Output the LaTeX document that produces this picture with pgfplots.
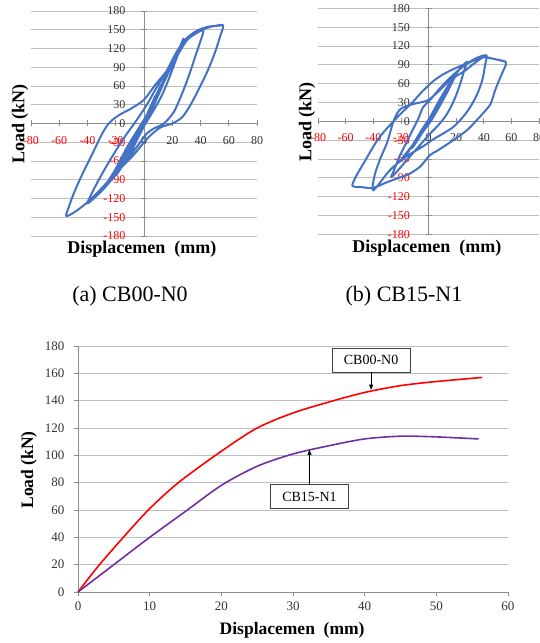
\documentclass[border=0pt]{standalone}
\usepackage{pgfplots}
\pgfplotsset{compat=1.18}
\usepackage{fontspec}
\setmainfont{Liberation Serif}
\usetikzlibrary{arrows.meta}

\definecolor{xlblue}{RGB}{68,114,196}
\definecolor{gridgray}{RGB}{190,190,190}
\definecolor{axgray}{RGB}{140,140,140}
\definecolor{cbred}{RGB}{255,0,0}
\definecolor{cbpurple}{RGB}{112,48,160}

\pgfplotsset{
  hyst/.style={
    scale only axis,
    xmin=-80, xmax=80, ymin=-180, ymax=180,
    axis lines=middle,
    axis line style={draw=axgray, line width=0.6pt, -},
    hide obscured x ticks=false, hide obscured y ticks=false,
    xtick={-80,-60,...,80}, ytick={-180,-150,...,180},
    xticklabels={\textcolor{red}{-80},\textcolor{red}{-60},\textcolor{red}{-40},\textcolor{red}{-20},0,20,40,60,80},
    yticklabels={\textcolor{red}{-180},\textcolor{red}{-150},\textcolor{red}{-120},\textcolor{red}{-90},\textcolor{red}{-60},\textcolor{red}{-30},0,30,60,90,120,150,180},
    ticklabel style={font=\fontsize{12}{14}\selectfont, text=black!80},
    xticklabel style={anchor=north, yshift=-6pt},
    yticklabel style={anchor=east, xshift=-12pt},
    tick align=center, major tick length=6pt,
    tick style={axgray, line width=0.6pt},
    ymajorgrids, grid style={gridgray, line width=0.6pt},
    label style={font=\bfseries\fontsize{18}{20}\selectfont},
    xlabel={Displacemen\ \ (mm)}, ylabel={Load (kN)},
  },
  loop/.style={xlblue, line width=2pt, smooth, tension=0.5, mark=none, line join=round},
}

\begin{document}
\begin{tikzpicture}
\useasboundingbox (0,0) rectangle (540pt,643pt);

% (a) CB00-N0
\begin{axis}[hyst, at={(31pt,407pt)}, anchor=south west, width=226pt, height=225pt,
  xlabel style={at={(axis description cs:0.491,-0.058)}, anchor=center},
  ylabel style={at={(axis description cs:-0.049,0.498)}, anchor=center, rotate=90}]
\addplot[loop] coordinates {
(0,0) (3,16) (5,28) (3,18) (0,4) (-3,-12) (-5,-24) (-3,-14) (0,-2)
(4,22) (8,44) (6,34) (2,14) (-2,-6) (-5,-20) (-8,-36) (-6,-28) (-2,-10) (1,4)
(6,32) (12,62) (10,52) (5,28) (0,4) (-5,-18) (-12,-52) (-9,-44) (-4,-22) (0,-4)
(6,30) (12,58) (17,82) (15,74) (10,50) (4,22) (-2,-4) (-8,-30) (-16,-64) (-13,-58) (-7,-34) (-1,-8)
(5,20) (12,55) (20,100) (18,90) (13,62) (7,32) (1,6) (-6,-22) (-13,-50) (-20,-82) (-17,-74) (-11,-48) (-4,-18) (2,6)
(9,42) (16,75) (23,110) (28,136) (26,122) (22,98) (17,68) (12,42) (6,18) (0,-4) (-8,-32) (-16,-60) (-22,-80) (-27,-98) (-24,-88) (-18,-64) (-12,-38) (-5,-12) (1,10) (8,40) (15,72)
(22,102) (30,132) (36,143) (42,149) (40,132) (37,112) (32,78) (27,48) (21,18) (14,0) (7,-8) (2,-16) (-4,-34) (-12,-58) (-20,-82) (-30,-108) (-40,-128) (-37,-112) (-32,-90) (-26,-66) (-19,-40) (-12,-16) (-5,6) (2,30) (9,58) (16,84) (24,118) (32,140) (42,151)
(50,156) (56,157) (54,140) (50,112) (45,84) (39,56) (33,30) (27,10) (20,0) (12,-6) (5,-18) (0,-30) (-8,-52) (-16,-70) (-26,-94) (-38,-122) (-48,-140) (-55,-148) (-53,-132) (-49,-108) (-43,-78) (-36,-46) (-30,-18) (-25,0) (-18,13) (-9,24) (0,38) (8,62) (16,84) (24,114) (30,136) (38,149) (46,155) (56,157)
};
\end{axis}

% (b) CB15-N1
\begin{axis}[hyst, at={(318pt,408.7pt)}, anchor=south west, width=221pt, height=226pt,
  xlabel style={at={(axis description cs:0.493,-0.061)}, anchor=center},
  ylabel style={at={(axis description cs:-0.05,0.497)}, anchor=center, rotate=90}]
\addplot[loop] coordinates {
(0,0) (3,12) (5,20) (3,13) (0,2) (-3,-10) (-5,-20) (-3,-12) (0,-1)
(4,16) (8,32) (6,24) (2,8) (-3,-10) (-8,-30) (-6,-23) (-2,-8) (1,3)
(6,24) (12,46) (10,38) (5,18) (0,0) (-5,-16) (-12,-42) (-10,-37) (-5,-20) (0,-2)
(7,30) (14,56) (20,76) (18,66) (13,44) (7,20) (1,-2) (-6,-22) (-13,-42) (-20,-62) (-17,-56) (-11,-36) (-5,-14) (1,6)
(8,34) (15,58) (22,82) (28,95) (26,82) (23,60) (19,36) (14,14) (8,-4) (1,-20) (-7,-40) (-15,-60) (-22,-78) (-27,-89) (-25,-78) (-21,-56) (-16,-34) (-11,-12) (-7,6) (-4,22) (2,36) (8,52) (15,68) (21,80) (28,92)
(35,101) (42,105) (41,90) (39,66) (35,42) (30,22) (25,7) (18,-9) (11,-19) (4,-28) (-4,-40) (-16,-56) (-28,-78) (-40,-110) (-39,-86) (-35,-60) (-30,-34) (-25,2) (-20,20) (-10,28) (-1,33) (6,45) (13,60) (20,72) (26,80) (33,92) (40,102)
(48,99) (56,94) (54,80) (52,70) (48,48) (45,28) (40,14) (35,2) (28,-14) (18,-30) (7,-46) (1,-54) (-6,-72) (-14,-84) (-20,-89) (-30,-97) (-40,-106) (-48,-105) (-55,-103) (-53,-90) (-50,-78) (-47,-67) (-42,-48) (-37,-30) (-32,-16) (-27,-4) (-21,10) (-15,23) (-10,34) (-6,44) (-1,55) (4,65) (10,74) (16,81) (22,87) (28,92) (34,98) (40,102) (46,100) (56,95)
};
\end{axis}

\node[font=\fontsize{22}{24}\selectfont] at (130pt,347pt) {(a) CB00-N0};
\node[font=\fontsize{22}{24}\selectfont] at (404pt,347pt) {(b) CB15-N1};

% envelope curves
\begin{axis}[scale only axis, at={(78pt,51pt)}, anchor=south west, width=430pt, height=246pt,
  xmin=0, xmax=60, ymin=0, ymax=180,
  axis x line=bottom, axis y line=left,
  axis line style={draw=axgray, line width=0.6pt, -},
  xtick={0,10,...,60}, ytick={0,20,...,180},
  tick align=outside, major tick length=4pt,
  tick style={axgray, line width=0.6pt},
  ymajorgrids, grid style={gridgray, line width=0.6pt},
  /pgf/number format/assume math mode=true,
  ticklabel style={font=\fontsize{13}{15}\selectfont, text=black!80},
  xticklabel style={yshift=-2pt},
  yticklabel style={xshift=-6pt},
  label style={font=\bfseries\fontsize{17.5}{20}\selectfont},
  xlabel={Displacemen\ \ (mm)}, ylabel={Load (kN)},
  xlabel style={at={(axis description cs:0.498,-0.154)}, anchor=center},
  ylabel style={at={(axis description cs:-0.114,0.496)}, anchor=center},
  clip=false]
\addplot[cbred, line width=1.6pt, smooth, mark=none] coordinates {
(0,0) (3,20) (7,44) (10,61) (14,80) (20,103) (25,120) (30,131) (35,139) (40,146) (45,151) (50,154) (56.4,157)
};
\addplot[cbpurple, line width=1.6pt, smooth, mark=none] coordinates {
(0,0) (5,20) (10,40) (15,59) (20,78) (25,92) (30,101) (35,107) (40,112) (45,114) (50,113.5) (55.9,112)
};
\node[draw=black!75, fill=white, line width=0.8pt, minimum width=78pt, minimum height=24pt,
  font=\fontsize{14}{16}\selectfont] at (axis cs:40.9,169.8) {CB00-N0};
\draw[black, line width=0.6pt, -{Triangle[length=5pt,width=4pt]}] (axis cs:40.9,161) -- (axis cs:40.9,148);
\node[draw=black!75, fill=white, line width=0.8pt, minimum width=78pt, minimum height=24pt,
  font=\fontsize{14}{16}\selectfont] at (axis cs:32.3,69.9) {CB15-N1};
\draw[black, line width=0.6pt, -{Triangle[length=5pt,width=4pt]}] (axis cs:32.3,79) -- (axis cs:32.3,104);
\end{axis}
\end{tikzpicture}
\end{document}
